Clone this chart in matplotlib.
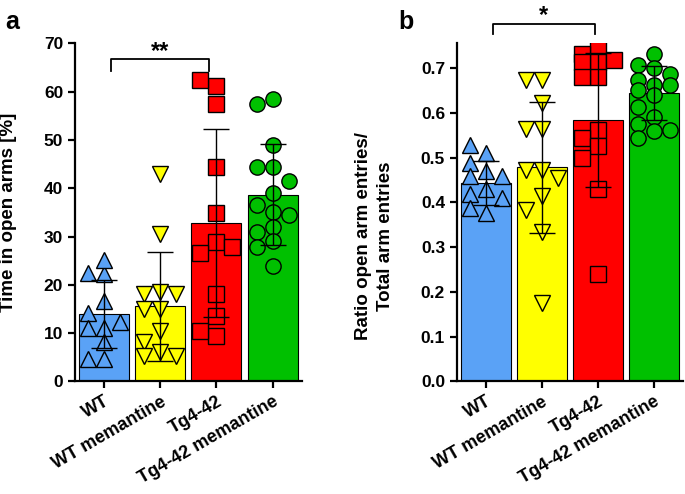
import matplotlib
matplotlib.use("Agg")
import matplotlib.pyplot as plt
import numpy as np

plt.rcParams['font.family'] = ['Liberation Sans', 'DejaVu Sans']
plt.rcParams['font.weight'] = 'bold'

groups = ['WT', 'WT memantine', 'Tg4-42', 'Tg4-42 memantine']
colors = ['#5aa2f6', '#ffff00', '#ff0000', '#00c000']
markers = ['^', 'v', 's', 'o']

# panel a: time in open arms [%]
time_pts = [
    [22.3, 22.4, 25.2, 16.6, 14.1, 11.0, 11.0, 12.4, 8.1, 4.6, 4.6],
    [43.0, 30.6, 18.5, 18.1, 18.1, 15.0, 15.0, 10.5, 8.1, 6.0, 5.3, 5.3],
    [61.1, 62.4, 57.5, 44.4, 34.9, 28.8, 26.6, 27.8, 18.1, 13.6, 9.5, 10.4],
    [58.6, 57.5, 48.9, 44.4, 44.4, 41.6, 39.0, 36.5, 35.1, 34.4, 32.0, 30.9, 29.1, 27.8, 24.0],
]
time_mean = [14.0, 15.6, 32.8, 38.7]
time_sd = [7.1, 11.3, 19.4, 10.4]

# panel b: ratio open arm entries / total arm entries
ratio_pts = [
    [0.510, 0.528, 0.488, 0.469, 0.458, 0.458, 0.429, 0.418, 0.410, 0.377, 0.388],
    [0.673, 0.673, 0.621, 0.565, 0.565, 0.473, 0.473, 0.455, 0.414, 0.384, 0.333, 0.174],
    [0.748, 0.732, 0.713, 0.717, 0.713, 0.681, 0.681, 0.562, 0.543, 0.525, 0.500, 0.429, 0.240],
    [0.732, 0.706, 0.700, 0.687, 0.673, 0.662, 0.662, 0.650, 0.639, 0.613, 0.591, 0.576, 0.562, 0.560, 0.543],
]
ratio_mean = [0.443, 0.478, 0.584, 0.644]
ratio_sd = [0.050, 0.147, 0.149, 0.060]


def swarm(ax, xc, vals, ms_px):
    # column-style swarm in pixel space, kept within +-1.5 marker widths
    placed = []
    offs = []
    cands = [0, -1, 1, -0.5, 0.5, -1.5, 1.5]
    step = ms_px * 1.05
    for v in vals:
        px, py = ax.transData.transform((xc, v))
        best, best_d = None, -1
        for c in cands:
            x = px + c * step
            d = min([max(abs(x - qx), abs(py - qy)) for qx, qy in placed] or [1e9])
            if d > ms_px * 0.9:
                best = x
                break
            if d > best_d:
                best, best_d = x, d
        placed.append((best, py))
        offs.append(ax.transData.inverted().transform((best, py))[0])
    return offs


def panel(ax, pts, means, sds, ylim, yticks, fmt):
    x = np.arange(len(groups))
    ax.set_xlim(-0.52, 3.52)
    ax.set_ylim(*ylim)
    ax.bar(x, means, width=0.89, color=colors, edgecolor='black', linewidth=0.8, zorder=1)
    ms = 11
    ms_px = ms * fig.dpi / 72
    for i in range(len(groups)):
        xs = swarm(ax, x[i], pts[i], ms_px)
        ax.plot(xs, pts[i], linestyle='none', marker=markers[i], ms=ms,
                markerfacecolor=colors[i], markeredgecolor='black', markeredgewidth=1.0, zorder=2)
    ax.errorbar(x, means, yerr=sds, fmt='none', ecolor='black', elinewidth=1.0,
                capsize=9.5, capthick=1.0, zorder=3)
    for s in ['top', 'right']:
        ax.spines[s].set_visible(False)
    for s in ['left', 'bottom']:
        ax.spines[s].set_linewidth(1.6)
    ax.set_yticks(yticks)
    ax.set_yticklabels([fmt.format(t) for t in yticks], fontsize=12.5, fontweight='bold')
    ax.set_xticks(x)
    ax.set_xticklabels(groups, rotation=30, ha='right', rotation_mode='anchor',
                       fontsize=13, fontweight='bold')
    ax.tick_params(axis='both', direction='out', length=5, width=1.6)


fig = plt.figure(figsize=(6.85, 4.94), dpi=100)
axa = fig.add_axes([0.1095, 0.228, 0.331, 0.684])
axb = fig.add_axes([0.667, 0.228, 0.33, 0.684])

panel(axa, time_pts, time_mean, time_sd, (0, 70), list(range(0, 71, 10)), '{:d}')
axa.set_ylabel('Time in open arms [%]', fontsize=13.5, fontweight='bold')
axa.yaxis.set_label_coords(-0.255, 0.5)
axa.plot([0.12, 0.12, 1.87, 1.87], [64.4, 66.7, 66.7, 64.4], color='black', lw=1.3, clip_on=False)
axa.text(1.0, 66.0, '**', ha='center', va='bottom', fontsize=17, fontweight='bold')

panel(axb, ratio_pts, ratio_mean, ratio_sd, (0, 0.755), [i / 10 for i in range(8)], '{:.1f}')
axb.set_ylabel('Ratio open arm entries/\nTotal arm entries', fontsize=13.5, fontweight='bold',
               linespacing=1.35)
axb.yaxis.set_label_coords(-0.28, 0.43)
axb.plot([0.12, 0.12, 1.95, 1.95], [0.776, 0.798, 0.798, 0.776], color='black', lw=1.3, clip_on=False)
axb.text(1.03, 0.792, '*', ha='center', va='bottom', fontsize=17, fontweight='bold')

fig.text(0.007, 0.955, 'a', fontsize=18, fontweight='bold', va='center')
fig.text(0.582, 0.955, 'b', fontsize=18, fontweight='bold', va='center')

fig.savefig('out.png', dpi=100)
